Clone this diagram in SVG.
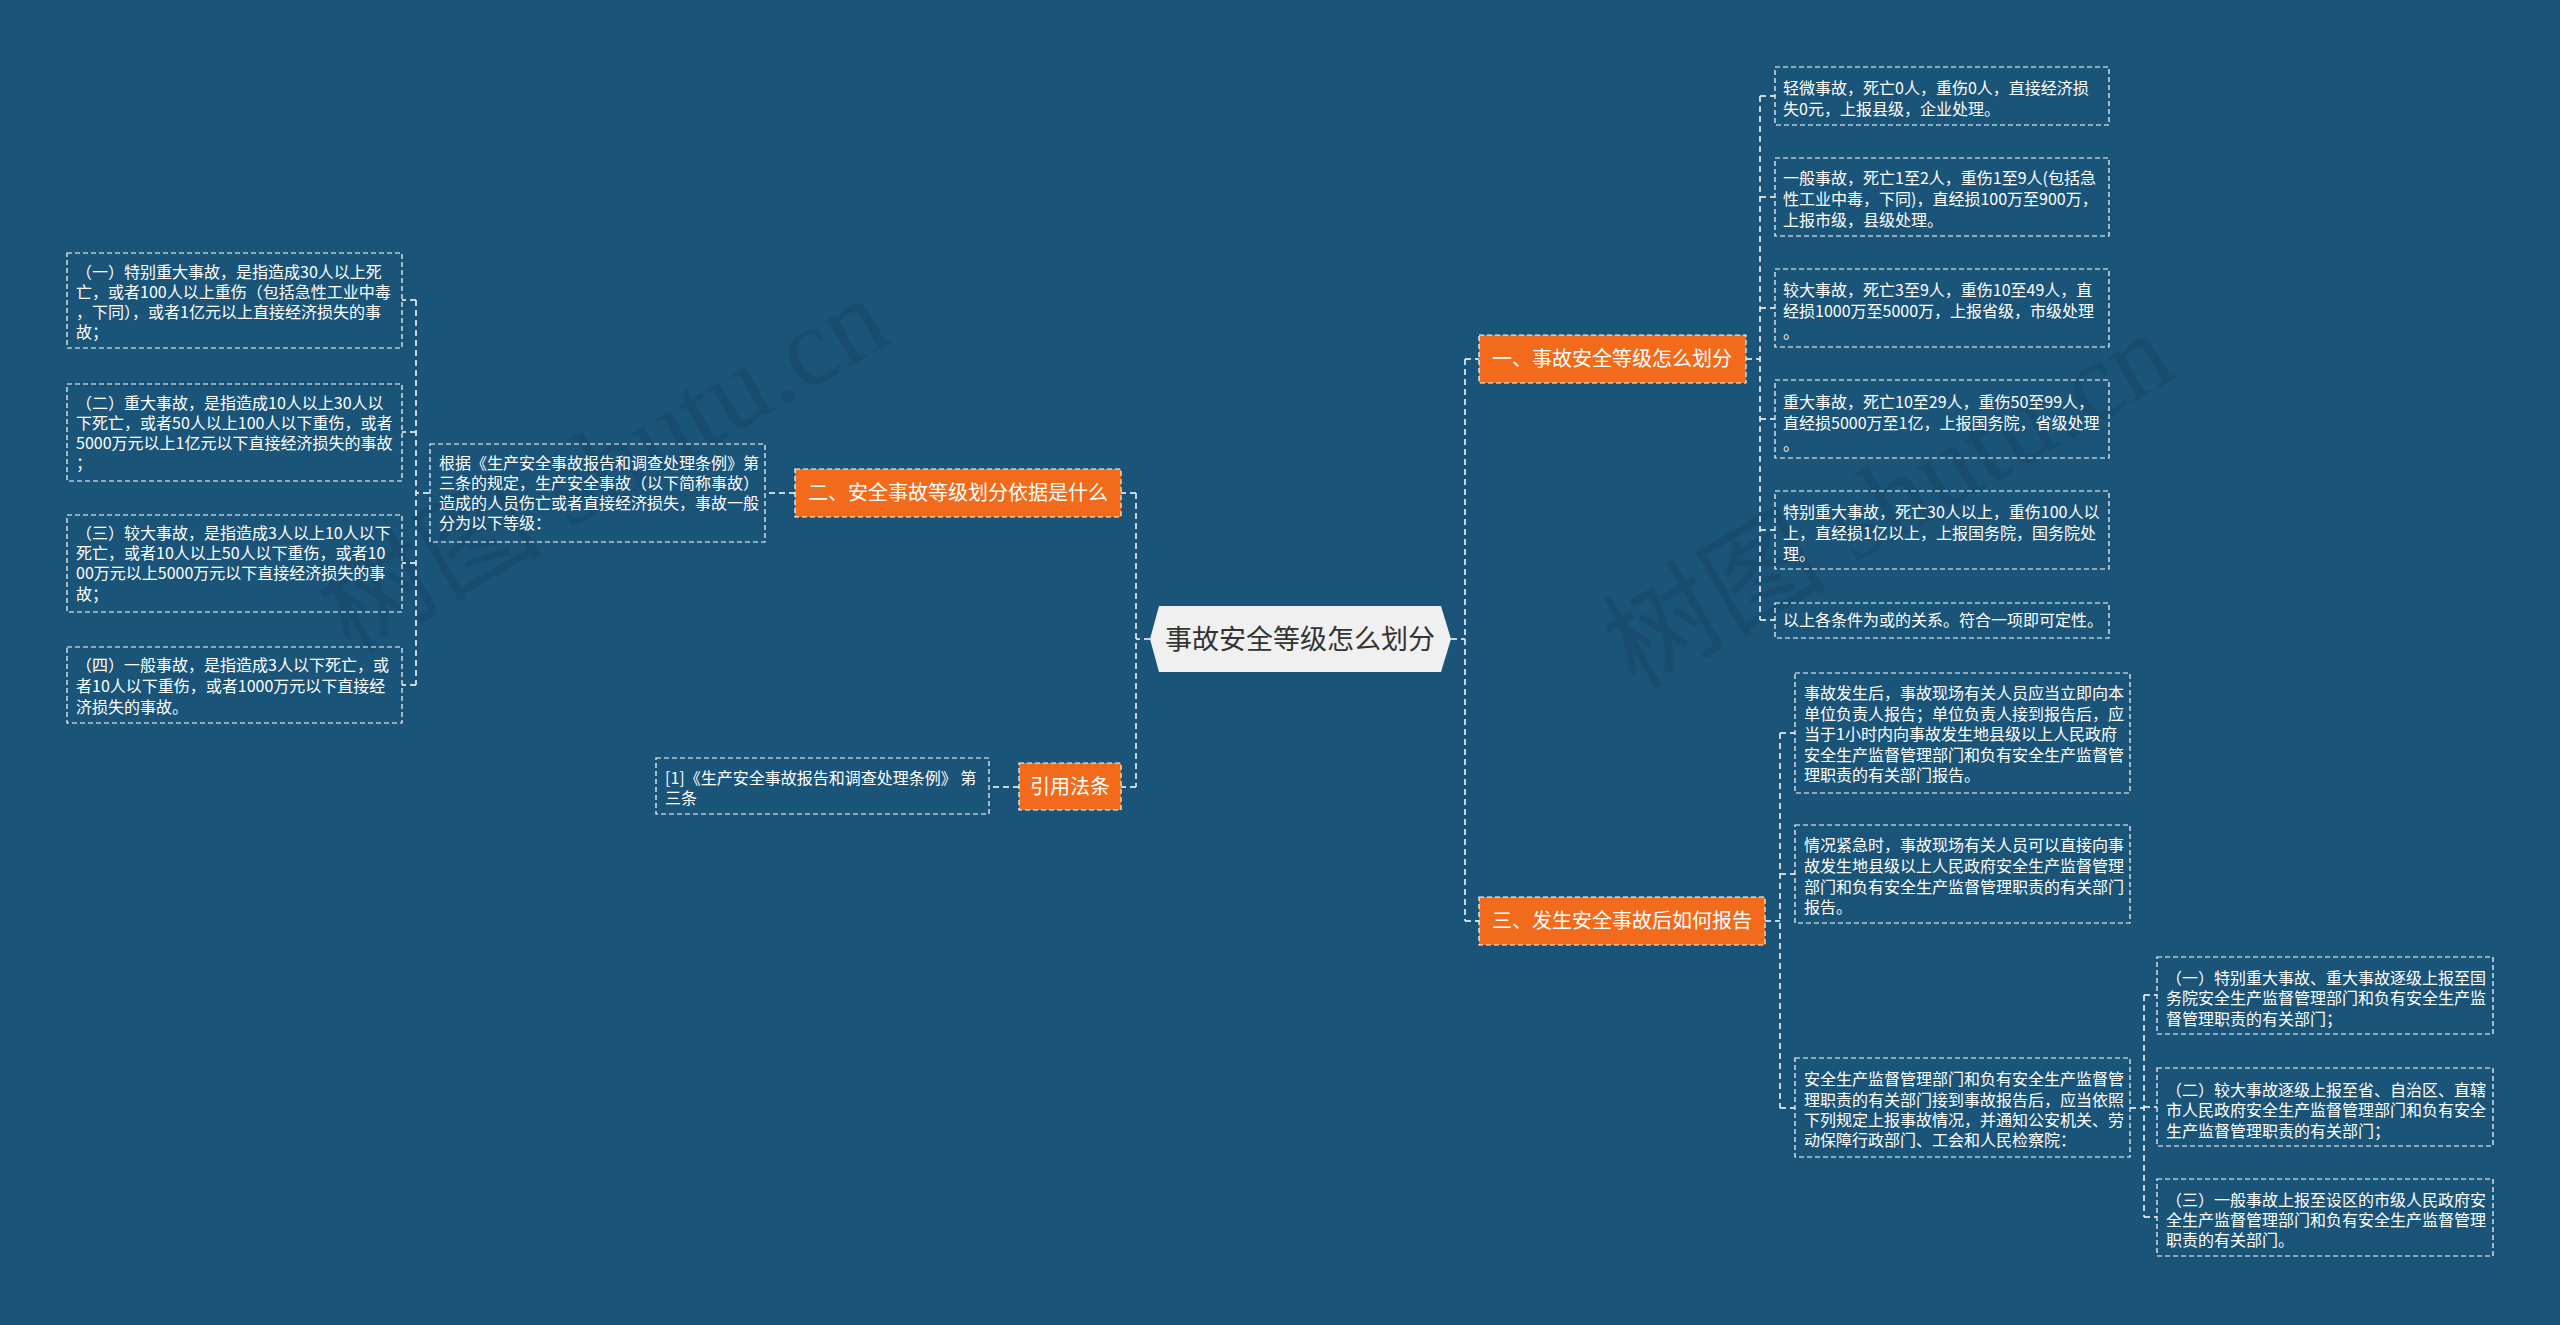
<svg xmlns="http://www.w3.org/2000/svg" width="2560" height="1325" viewBox="0 0 2560 1325">
<style>
.leaf{fill:none;stroke:#fff;stroke-width:1.2;stroke-dasharray:5 3}
.topic{fill:#f26a1b;stroke:#fff;stroke-width:1.2;stroke-dasharray:5 3}
.lt{font-family:"Noto Sans CJK SC","Microsoft YaHei",sans-serif;font-size:16px;fill:#fff}
.tt{font-family:"Noto Sans CJK SC","Microsoft YaHei",sans-serif;font-size:20px;fill:#fff;text-anchor:middle}
.rt{font-family:"Noto Sans CJK SC","Microsoft YaHei",sans-serif;font-size:27px;fill:#333;text-anchor:middle}
.wm{font-family:"Liberation Serif","Noto Sans CJK SC",serif;font-size:112px;fill:#000;opacity:0.07}
#connectors path{fill:none;stroke:#fff;stroke-width:1.5;stroke-dasharray:6 4}
</style>
<rect width="2560" height="1325" fill="#1a5478"/>
<text class="wm" transform="translate(350,655) rotate(-30)">树图 shutu.cn</text>
<text class="wm" transform="translate(1635,690) rotate(-30)">树图 shutu.cn</text>

<g id="connectors">
<path d="M1150,639 H1136 M1136,493 V787 M1136,493 H1121 M1136,787 H1121"/>
<path d="M1451,639 H1465 M1465,359 V921 M1465,359 H1479 M1465,921 H1479"/>
<path d="M1746,359 H1760 M1760,96 V620 M1760,96 H1775 M1760,197 H1775 M1760,308 H1775 M1760,419 H1775 M1760,530 H1775 M1760,620 H1775"/>
<path d="M795,493 H765 M429,493 H416 M416,300 V685 M416,300 H402 M416,432 H402 M416,563 H402 M416,685 H402"/>
<path d="M1019,787 H989"/>
<path d="M1765,921 H1780 M1780,733 V1108 M1780,733 H1795 M1780,874 H1795 M1780,1108 H1795"/>
<path d="M2130,1108 H2144 M2144,995 V1217 M2144,995 H2157 M2144,1107 H2157 M2144,1217 H2157"/>
</g>

<g id="root">
<polygon points="1150,639 1159,606 1441,606 1451,639 1441,672 1159,672" fill="#f0f0f0"/>
<text class="rt" x="1300" y="649">事故安全等级怎么划分</text>
</g>

<g id="sec1">
<rect class="topic" x="1479" y="335" width="267" height="48"/>
<text class="tt" x="1612" y="366">一、事故安全等级怎么划分</text>
</g>
<g id="sec2">
<rect class="topic" x="795" y="469" width="326" height="48"/>
<text class="tt" x="958" y="500">二、安全事故等级划分依据是什么</text>
</g>
<g id="sec-ref">
<rect class="topic" x="1019" y="763" width="102" height="47"/>
<text class="tt" x="1070" y="794">引用法条</text>
</g>
<g id="sec3">
<rect class="topic" x="1479" y="897" width="286" height="48"/>
<text class="tt" x="1622" y="928">三、发生安全事故后如何报告</text>
</g>

<g id="s1-b1">
<rect class="leaf" x="1775" y="67" width="334" height="58"/>
<text class="lt"><tspan x="1783" y="94">轻微事故，死亡0人，重伤0人，直接经济损</tspan><tspan x="1783" y="115">失0元，上报县级，企业处理。</tspan></text>
</g>
<g id="s1-b2">
<rect class="leaf" x="1775" y="158" width="334" height="78"/>
<text class="lt"><tspan x="1783" y="184">一般事故，死亡1至2人，重伤1至9人(包括急</tspan><tspan x="1783" y="205">性工业中毒，下同)，直经损100万至900万，</tspan><tspan x="1783" y="226">上报市级，县级处理。</tspan></text>
</g>
<g id="s1-b3">
<rect class="leaf" x="1775" y="269" width="334" height="78"/>
<text class="lt"><tspan x="1783" y="296">较大事故，死亡3至9人，重伤10至49人，直</tspan><tspan x="1783" y="317">经损1000万至5000万，上报省级，市级处理</tspan><tspan x="1783" y="338">。</tspan></text>
</g>
<g id="s1-b4">
<rect class="leaf" x="1775" y="380" width="334" height="78"/>
<text class="lt"><tspan x="1783" y="408">重大事故，死亡10至29人，重伤50至99人，</tspan><tspan x="1783" y="429">直经损5000万至1亿，上报国务院，省级处理</tspan><tspan x="1783" y="450">。</tspan></text>
</g>
<g id="s1-b5">
<rect class="leaf" x="1775" y="491" width="334" height="78"/>
<text class="lt"><tspan x="1783" y="518">特别重大事故，死亡30人以上，重伤100人以</tspan><tspan x="1783" y="539">上，直经损1亿以上，上报国务院，国务院处</tspan><tspan x="1783" y="560">理。</tspan></text>
</g>
<g id="s1-b6">
<rect class="leaf" x="1775" y="603" width="334" height="35"/>
<text class="lt"><tspan x="1783" y="626">以上各条件为或的关系。符合一项即可定性。</tspan></text>
</g>

<g id="s2-basis">
<rect class="leaf" x="430" y="444" width="335" height="98"/>
<text class="lt"><tspan x="439" y="469">根据《生产安全事故报告和调查处理条例》第</tspan><tspan x="439" y="489">三条的规定，生产安全事故（以下简称事故）</tspan><tspan x="439" y="509">造成的人员伤亡或者直接经济损失，事故一般</tspan><tspan x="439" y="529">分为以下等级：</tspan></text>
</g>
<g id="s2-l1">
<rect class="leaf" x="67" y="253" width="335" height="95"/>
<text class="lt"><tspan x="76" y="278">（一）特别重大事故，是指造成30人以上死</tspan><tspan x="76" y="298">亡，或者100人以上重伤（包括急性工业中毒</tspan><tspan x="76" y="318">，下同），或者1亿元以上直接经济损失的事</tspan><tspan x="76" y="338">故；</tspan></text>
</g>
<g id="s2-l2">
<rect class="leaf" x="67" y="384" width="335" height="97"/>
<text class="lt"><tspan x="76" y="409">（二）重大事故，是指造成10人以上30人以</tspan><tspan x="76" y="429">下死亡，或者50人以上100人以下重伤，或者</tspan><tspan x="76" y="449">5000万元以上1亿元以下直接经济损失的事故</tspan><tspan x="76" y="469">；</tspan></text>
</g>
<g id="s2-l3">
<rect class="leaf" x="67" y="515" width="335" height="97"/>
<text class="lt"><tspan x="76" y="539">（三）较大事故，是指造成3人以上10人以下</tspan><tspan x="76" y="559">死亡，或者10人以上50人以下重伤，或者10</tspan><tspan x="76" y="579">00万元以上5000万元以下直接经济损失的事</tspan><tspan x="76" y="600">故；</tspan></text>
</g>
<g id="s2-l4">
<rect class="leaf" x="67" y="647" width="335" height="76"/>
<text class="lt"><tspan x="76" y="671">（四）一般事故，是指造成3人以下死亡，或</tspan><tspan x="76" y="692">者10人以下重伤，或者1000万元以下直接经</tspan><tspan x="76" y="713">济损失的事故。</tspan></text>
</g>

<g id="ref-1">
<rect class="leaf" x="656" y="758" width="333" height="56"/>
<text class="lt"><tspan x="665" y="784">[1]《生产安全事故报告和调查处理条例》 第</tspan><tspan x="665" y="804">三条</tspan></text>
</g>

<g id="s3-a">
<rect class="leaf" x="1795" y="673" width="335" height="120"/>
<text class="lt"><tspan x="1804" y="699">事故发生后，事故现场有关人员应当立即向本</tspan><tspan x="1804" y="720">单位负责人报告；单位负责人接到报告后，应</tspan><tspan x="1804" y="740">当于1小时内向事故发生地县级以上人民政府</tspan><tspan x="1804" y="761">安全生产监督管理部门和负有安全生产监督管</tspan><tspan x="1804" y="781">理职责的有关部门报告。</tspan></text>
</g>
<g id="s3-b">
<rect class="leaf" x="1795" y="825" width="335" height="98"/>
<text class="lt"><tspan x="1804" y="851">情况紧急时，事故现场有关人员可以直接向事</tspan><tspan x="1804" y="872">故发生地县级以上人民政府安全生产监督管理</tspan><tspan x="1804" y="893">部门和负有安全生产监督管理职责的有关部门</tspan><tspan x="1804" y="913">报告。</tspan></text>
</g>
<g id="s3-c">
<rect class="leaf" x="1795" y="1058" width="335" height="99"/>
<text class="lt"><tspan x="1804" y="1085">安全生产监督管理部门和负有安全生产监督管</tspan><tspan x="1804" y="1106">理职责的有关部门接到事故报告后，应当依照</tspan><tspan x="1804" y="1126">下列规定上报事故情况，并通知公安机关、劳</tspan><tspan x="1804" y="1146">动保障行政部门、工会和人民检察院：</tspan></text>
</g>
<g id="s3-c1">
<rect class="leaf" x="2157" y="957" width="336" height="77"/>
<text class="lt"><tspan x="2166" y="984">（一）特别重大事故、重大事故逐级上报至国</tspan><tspan x="2166" y="1004">务院安全生产监督管理部门和负有安全生产监</tspan><tspan x="2166" y="1025">督管理职责的有关部门；</tspan></text>
</g>
<g id="s3-c2">
<rect class="leaf" x="2157" y="1068" width="336" height="78"/>
<text class="lt"><tspan x="2166" y="1096">（二）较大事故逐级上报至省、自治区、直辖</tspan><tspan x="2166" y="1116">市人民政府安全生产监督管理部门和负有安全</tspan><tspan x="2166" y="1137">生产监督管理职责的有关部门；</tspan></text>
</g>
<g id="s3-c3">
<rect class="leaf" x="2157" y="1179" width="336" height="77"/>
<text class="lt"><tspan x="2166" y="1206">（三）一般事故上报至设区的市级人民政府安</tspan><tspan x="2166" y="1226">全生产监督管理部门和负有安全生产监督管理</tspan><tspan x="2166" y="1246">职责的有关部门。</tspan></text>
</g>
</svg>
